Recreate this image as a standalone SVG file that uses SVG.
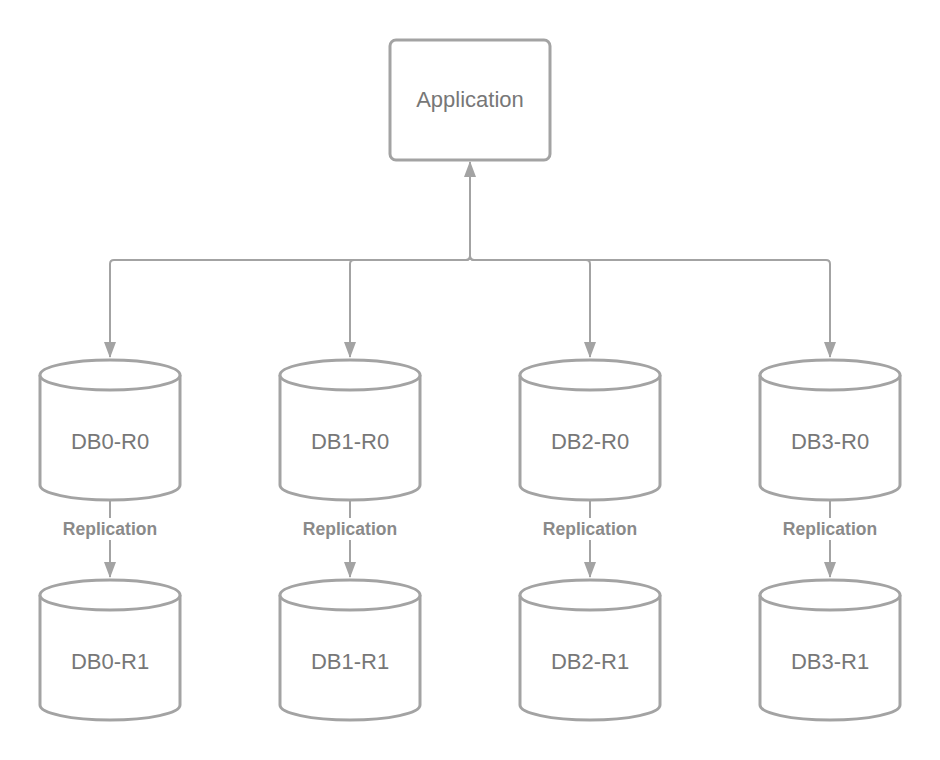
<svg xmlns="http://www.w3.org/2000/svg" width="940" height="760" viewBox="0 0 940 760">
<style>
.shape{fill:#fff;stroke:#a3a3a3;stroke-width:3;}
.line{fill:none;stroke:#a3a3a3;stroke-width:2;}
.lbl{font-family:"Liberation Sans",Arial,sans-serif;font-size:22px;fill:#777;text-anchor:middle;}
.rep{font-family:"Liberation Sans",Arial,sans-serif;font-size:17.5px;font-weight:bold;fill:#8a8a8a;text-anchor:middle;}
</style>
<defs>
<marker id="arr" viewBox="0 0 16 12" refX="15" refY="6" markerWidth="16" markerHeight="12" markerUnits="userSpaceOnUse" orient="auto-start-reverse">
<path d="M0,0 L16,6 L0,12 Z" fill="#a3a3a3"/>
</marker>
<symbol id="cyl" overflow="visible">
<path class="shape" d="M0,15 A70,15 0 0,1 140,15 L140,125 A70,15 0 0,1 0,125 Z"/>
<path class="shape" fill="none" d="M0,15 A70,15 0 0,0 140,15"/>
</symbol>
</defs>
<rect width="940" height="760" fill="#fff"/>
<g id="connectors">
<path class="line" marker-start="url(#arr)" marker-end="url(#arr)" d="M470,162 L470,256 Q470,260 466,260 L114,260 Q110,260 110,264 L110,357"/>
<path class="line" marker-end="url(#arr)" d="M470,162 L470,256 Q470,260 466,260 L354,260 Q350,260 350,264 L350,357"/>
<path class="line" marker-end="url(#arr)" d="M470,162 L470,256 Q470,260 474,260 L586,260 Q590,260 590,264 L590,357"/>
<path class="line" marker-end="url(#arr)" d="M470,162 L470,256 Q470,260 474,260 L826,260 Q830,260 830,264 L830,357"/>
<g id="rep0"><path class="line" marker-end="url(#arr)" d="M110,501 L110,577"/><rect x="60" y="518" width="100" height="22" fill="#fff"/><text class="rep" x="110" y="535">Replication</text></g>
<g id="rep1"><path class="line" marker-end="url(#arr)" d="M350,501 L350,577"/><rect x="300" y="518" width="100" height="22" fill="#fff"/><text class="rep" x="350" y="535">Replication</text></g>
<g id="rep2"><path class="line" marker-end="url(#arr)" d="M590,501 L590,577"/><rect x="540" y="518" width="100" height="22" fill="#fff"/><text class="rep" x="590" y="535">Replication</text></g>
<g id="rep3"><path class="line" marker-end="url(#arr)" d="M830,501 L830,577"/><rect x="780" y="518" width="100" height="22" fill="#fff"/><text class="rep" x="830" y="535">Replication</text></g>
</g>
<g id="app"><rect class="shape" x="390" y="40" width="160" height="120" rx="6"/><text class="lbl" x="470" y="107">Application</text></g>
<g id="db0r0"><use href="#cyl" x="40" y="360"/><text class="lbl" x="110" y="449">DB0-R0</text></g>
<g id="db1r0"><use href="#cyl" x="280" y="360"/><text class="lbl" x="350" y="449">DB1-R0</text></g>
<g id="db2r0"><use href="#cyl" x="520" y="360"/><text class="lbl" x="590" y="449">DB2-R0</text></g>
<g id="db3r0"><use href="#cyl" x="760" y="360"/><text class="lbl" x="830" y="449">DB3-R0</text></g>
<g id="db0r1"><use href="#cyl" x="40" y="580"/><text class="lbl" x="110" y="669">DB0-R1</text></g>
<g id="db1r1"><use href="#cyl" x="280" y="580"/><text class="lbl" x="350" y="669">DB1-R1</text></g>
<g id="db2r1"><use href="#cyl" x="520" y="580"/><text class="lbl" x="590" y="669">DB2-R1</text></g>
<g id="db3r1"><use href="#cyl" x="760" y="580"/><text class="lbl" x="830" y="669">DB3-R1</text></g>
</svg>
